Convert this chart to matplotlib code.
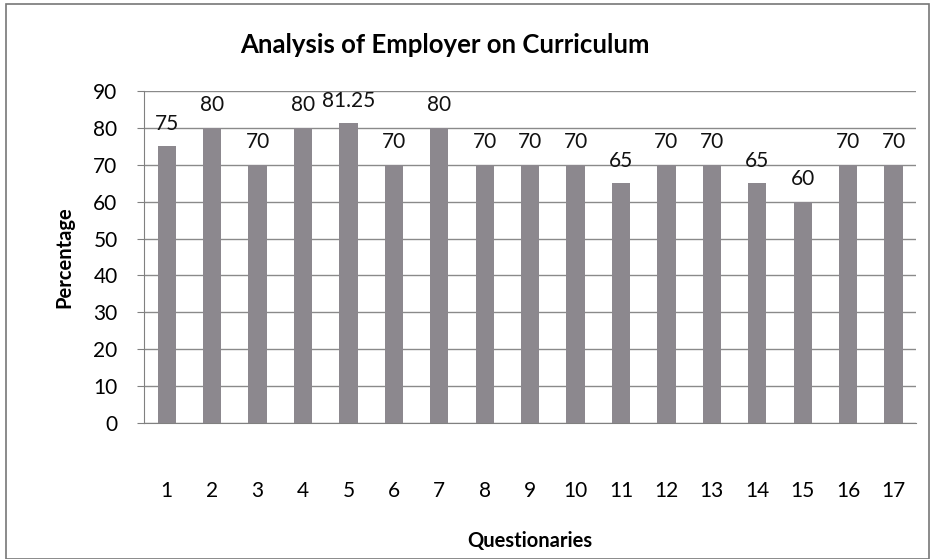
import matplotlib
matplotlib.use("Agg")
import matplotlib.pyplot as plt
from matplotlib.patches import Rectangle

plt.rcParams['font.family'] = ['Lato', 'DejaVu Sans']

questions = [str(i) for i in range(1, 18)]
percentages = [75, 80, 70, 80, 81.25, 70, 80, 70, 70, 70, 65, 70, 70, 65, 60, 70, 70]
value_labels = ["75", "80", "70", "80", "81.25", "70", "80", "70", "70", "70",
                "65", "70", "70", "65", "60", "70", "70"]
yticks = [0, 10, 20, 30, 40, 50, 60, 70, 80, 90]

fig = plt.figure(figsize=(9.35, 5.59), dpi=100)
ax = fig.add_axes([0.154, 0.2433, 0.826, 0.5937])

x = list(range(len(questions)))
bars = ax.bar(x, percentages, width=0.4, color='#8c888e', zorder=3)

for xi, v, lab in zip(x, percentages, value_labels):
    ax.annotate(lab, (xi, v), xytext=(0, 9), textcoords='offset points',
                ha='center', va='bottom', fontsize=15, color='#111111', zorder=4)

ax.set_xlim(-0.5, len(questions) - 0.5)
ax.set_ylim(0, 90)
ax.set_yticks(yticks)
ax.set_yticklabels([str(t) for t in yticks], fontsize=15)
ax.set_xticks(x)
ax.set_xticklabels(questions, fontsize=15)
ax.tick_params(axis='x', length=0, pad=42)
ax.tick_params(axis='y', length=5, color='#808080', pad=14)
ax.yaxis.grid(True, color='#8a8a8a', linewidth=1.0, zorder=0)
ax.set_axisbelow(True)
for s in ['top', 'right']:
    ax.spines[s].set_visible(False)
ax.spines['left'].set_color('#808080')
ax.spines['bottom'].set_color('#808080')

ax.set_ylabel('Percentage', fontsize=14.5, fontweight='bold', labelpad=14)
fig.text(0.567, 0.032, 'Questionaries', ha='center', va='center', fontsize=14.5, fontweight='bold')
fig.text(0.476, 0.92, 'Analysis of Employer on Curriculum', ha='center', va='center',
         fontsize=18.5, fontweight='bold')

fig.patches.append(Rectangle((0.006, 0.0), 0.988, 0.993, transform=fig.transFigure,
                             fill=False, edgecolor='#777777', linewidth=1.2))

fig.savefig('out.png', dpi=100)
